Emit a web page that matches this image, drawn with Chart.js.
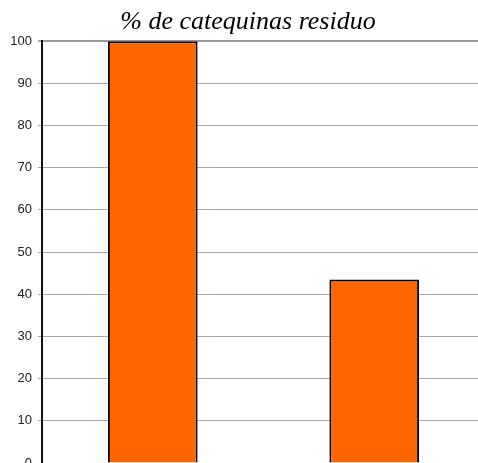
<!DOCTYPE html>
<html>
<head>
<meta charset="utf-8">
<script src="https://cdn.jsdelivr.net/npm/chart.js@4/dist/chart.umd.min.js"></script>
<style>
  html, body { margin: 0; padding: 0; overflow: hidden; background: #fff; }
  #wrap { position: absolute; left: 0; top: 0; width: 485px; height: 475px; }
</style>
</head>
<body>
<div id="wrap"><canvas id="c" width="485" height="475"></canvas></div>
<script>
const categories = ["1", "2"];
const seriesValues = [100, 43.5];
const yTicks = [0, 10, 20, 30, 40, 50, 60, 70, 80, 90, 100];
const chartTitle = "% de catequinas residuo";

new Chart(document.getElementById('c'), {
  type: 'bar',
  data: {
    labels: categories,
    datasets: [{
      data: seriesValues,
      backgroundColor: '#ff6600',
      borderColor: '#000000',
      borderWidth: 2,
      borderSkipped: 'start',
      categoryPercentage: 1,
      barPercentage: 0.405
    }]
  },
  options: {
    responsive: false,
    animation: false,
    layout: { padding: { left: 11, right: 0, top: 0, bottom: 12 } },
    plugins: {
      legend: { display: false },
      tooltip: { enabled: false },
      title: {
        display: true,
        text: chartTitle,
        color: '#000',
        font: { family: '"Liberation Serif", "Times New Roman", serif', size: 26, style: 'italic', weight: 'normal', lineHeight: 1.2 },
        padding: { top: 7, bottom: 3 }
      }
    },
    scales: {
      x: { display: false },
      y: {
        min: 0,
        max: 100,
        afterFit: (s) => { s.width = 31; s.paddingBottom = 0; },
        afterBuildTicks: (s) => { s.ticks = yTicks.map(v => ({ value: v })); },
        ticks: {
          color: '#222',
          padding: 6,
          font: { family: '"Liberation Sans", Arial, sans-serif', size: 13 }
        },
        grid: {
          color: (ctx) => ctx.tick && ctx.tick.value === 100 ? '#999999' : '#a8a8a8',
          lineWidth: (ctx) => ctx.tick && ctx.tick.value === 100 ? 2 : 1,
          tickLength: 4,
          tickColor: '#a8a8a8'
        },
        border: { display: true, color: '#111', width: 2 }
      }
    }
  }
});
</script>
</body>
</html>
